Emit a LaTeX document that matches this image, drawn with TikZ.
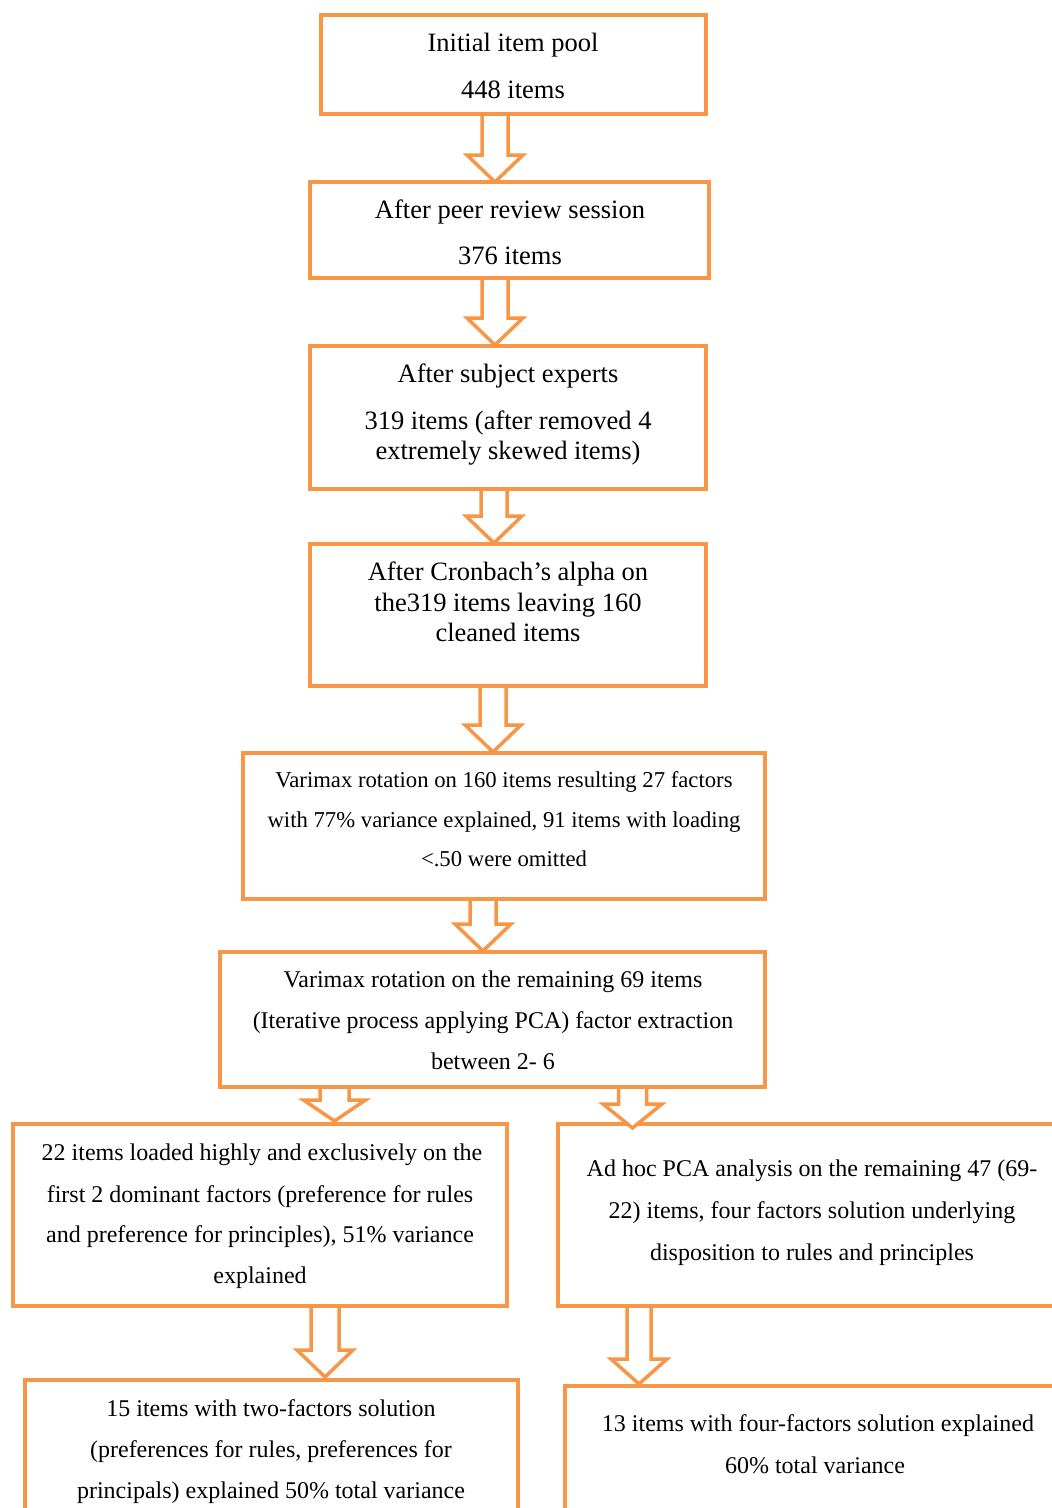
\documentclass[tikz,border=0pt]{standalone}
\usepackage{fontspec}
\setmainfont{Liberation Serif}
\usetikzlibrary{calc}
\definecolor{acc}{HTML}{F79646}
\tikzset{
  box/.style={draw=acc, line width=4pt, fill=white},
  barrowst/.style={draw=acc, line width=3.5pt, fill=white, line join=miter},
  tl/.style={anchor=base, inner sep=0pt, text=black},
  big/.style={font=\fontsize{26.5}{30}\selectfont},
  mid/.style={font=\fontsize{22.7}{26}\selectfont},
  sml/.style={font=\fontsize{24}{28}\selectfont},
}
% #1 start coord, #2 end coord, #3 head length, #4 shaft half width, #5 head half width
\newcommand{\blockarr}[5]{%
  \draw[barrowst] ($(#1)+(-#4,0)$) -- ($(#2)+(-#4,-#3)$) -- ($(#2)+(-#5,-#3)$) -- (#2)
    -- ($(#2)+(#5,-#3)$) -- ($(#2)+(#4,-#3)$) -- ($(#1)+(#4,0)$) -- cycle;}
\begin{document}
\begin{tikzpicture}[x=1pt,y=-1pt]
\useasboundingbox (0,0) rectangle (1052,1508);
\clip (0,0) rectangle (1052,1508);
\fill[white] (0,0) rectangle (1052,1508);
% boxes
\draw[box] (321,15) rectangle (706,114);
\draw[box] (310,182) rectangle (709,278);
\draw[box] (310,346) rectangle (706,489);
\draw[box] (310,544) rectangle (706,686);
\draw[box] (243,753) rectangle (765,899);
\draw[box] (220,952) rectangle (765,1087);
\draw[box] (13,1124) rectangle (507,1306);
\draw[box] (558,1124) rectangle (1072,1306);
\draw[box] (25,1380) rectangle (518,1540);
\draw[box] (565,1386) rectangle (1072,1540);
% arrow end points
\coordinate (a1s) at (495,114); \coordinate (a1e) at (495,182);
\coordinate (a2s) at (495,278); \coordinate (a2e) at (495,345);
\coordinate (a3s) at (494,489); \coordinate (a3e) at (494,543);
\coordinate (a4s) at (493,686); \coordinate (a4e) at (493,752);
\coordinate (a5s) at (483,899); \coordinate (a5e) at (483,951);
\coordinate (a6s) at (334.5,1087); \coordinate (a6e) at (334.5,1121);
\coordinate (a7s) at (632.5,1087); \coordinate (a7e) at (632.5,1128);
\coordinate (a8s) at (325,1306); \coordinate (a8e) at (325,1377);
\coordinate (a9s) at (639,1306); \coordinate (a9e) at (639,1384);
\blockarr{a1s}{a1e}{27}{13}{28}
\blockarr{a2s}{a2e}{27}{13}{28}
\blockarr{a3s}{a3e}{27}{13}{28}
\blockarr{a4s}{a4e}{27}{13}{28}
\blockarr{a5s}{a5e}{27}{13}{28}
\blockarr{a6s}{a6e}{21}{14.5}{31}
\blockarr{a7s}{a7e}{24}{14}{29.5}
\blockarr{a8s}{a8e}{27}{14}{28}
\blockarr{a9s}{a9e}{25}{12}{28}
% texts
\node[tl,big] (t1a) at (513,51) {Initial item pool};
\node[tl,big] (t1b) at (513,98) {448 items};
\node[tl,big] (t2a) at (510,218) {After peer review session};
\node[tl,big] (t2b) at (510,264) {376 items};
\node[tl,big] (t3a) at (508,382) {After subject experts};
\node[tl,big] (t3b) at (508,429) {319 items (after removed 4};
\node[tl,big] (t3c) at (508,459) {extremely skewed items)};
\node[tl,big] (t4a) at (508,580) {After Cronbach’s alpha on};
\node[tl,big] (t4b) at (508,611) {the319 items leaving 160};
\node[tl,big] (t4c) at (508,641) {cleaned items};
\node[tl,mid] (t5a) at (504,787) {Varimax rotation on 160 items resulting 27 factors};
\node[tl,mid] (t5b) at (504,827) {with 77\% variance explained, 91 items with loading};
\node[tl,mid] (t5c) at (504,866) {<.50 were omitted};
\node[tl,sml] (t6a) at (493,987) {Varimax rotation on the remaining 69 items};
\node[tl,sml] (t6b) at (493,1028) {(Iterative process applying PCA) factor extraction};
\node[tl,sml] (t6c) at (493,1069) {between 2- 6};
\node[tl,sml] (t7a) at (262,1160) {22 items loaded highly and exclusively on the};
\node[tl,sml] (t7b) at (260,1202) {first 2 dominant factors (preference for rules};
\node[tl,sml] (t7c) at (260,1242) {and preference for principles), 51\% variance};
\node[tl,sml] (t7d) at (260,1283) {explained};
\node[tl,sml] (t8a) at (812,1176) {Ad hoc PCA analysis on the remaining 47 (69-};
\node[tl,sml] (t8b) at (812,1218) {22) items, four factors solution underlying};
\node[tl,sml] (t8c) at (812,1260) {disposition to rules and principles};
\node[tl,sml] (t9a) at (271,1416) {15 items with two-factors solution};
\node[tl,sml] (t9b) at (271,1457) {(preferences for rules, preferences for};
\node[tl,sml] (t9c) at (271,1498) {principals) explained 50\% total variance};
\node[tl,sml] (t10a) at (818,1431) {13 items with four-factors solution explained};
\node[tl,sml] (t10b) at (815,1473) {60\% total variance};
\end{tikzpicture}
\end{document}
